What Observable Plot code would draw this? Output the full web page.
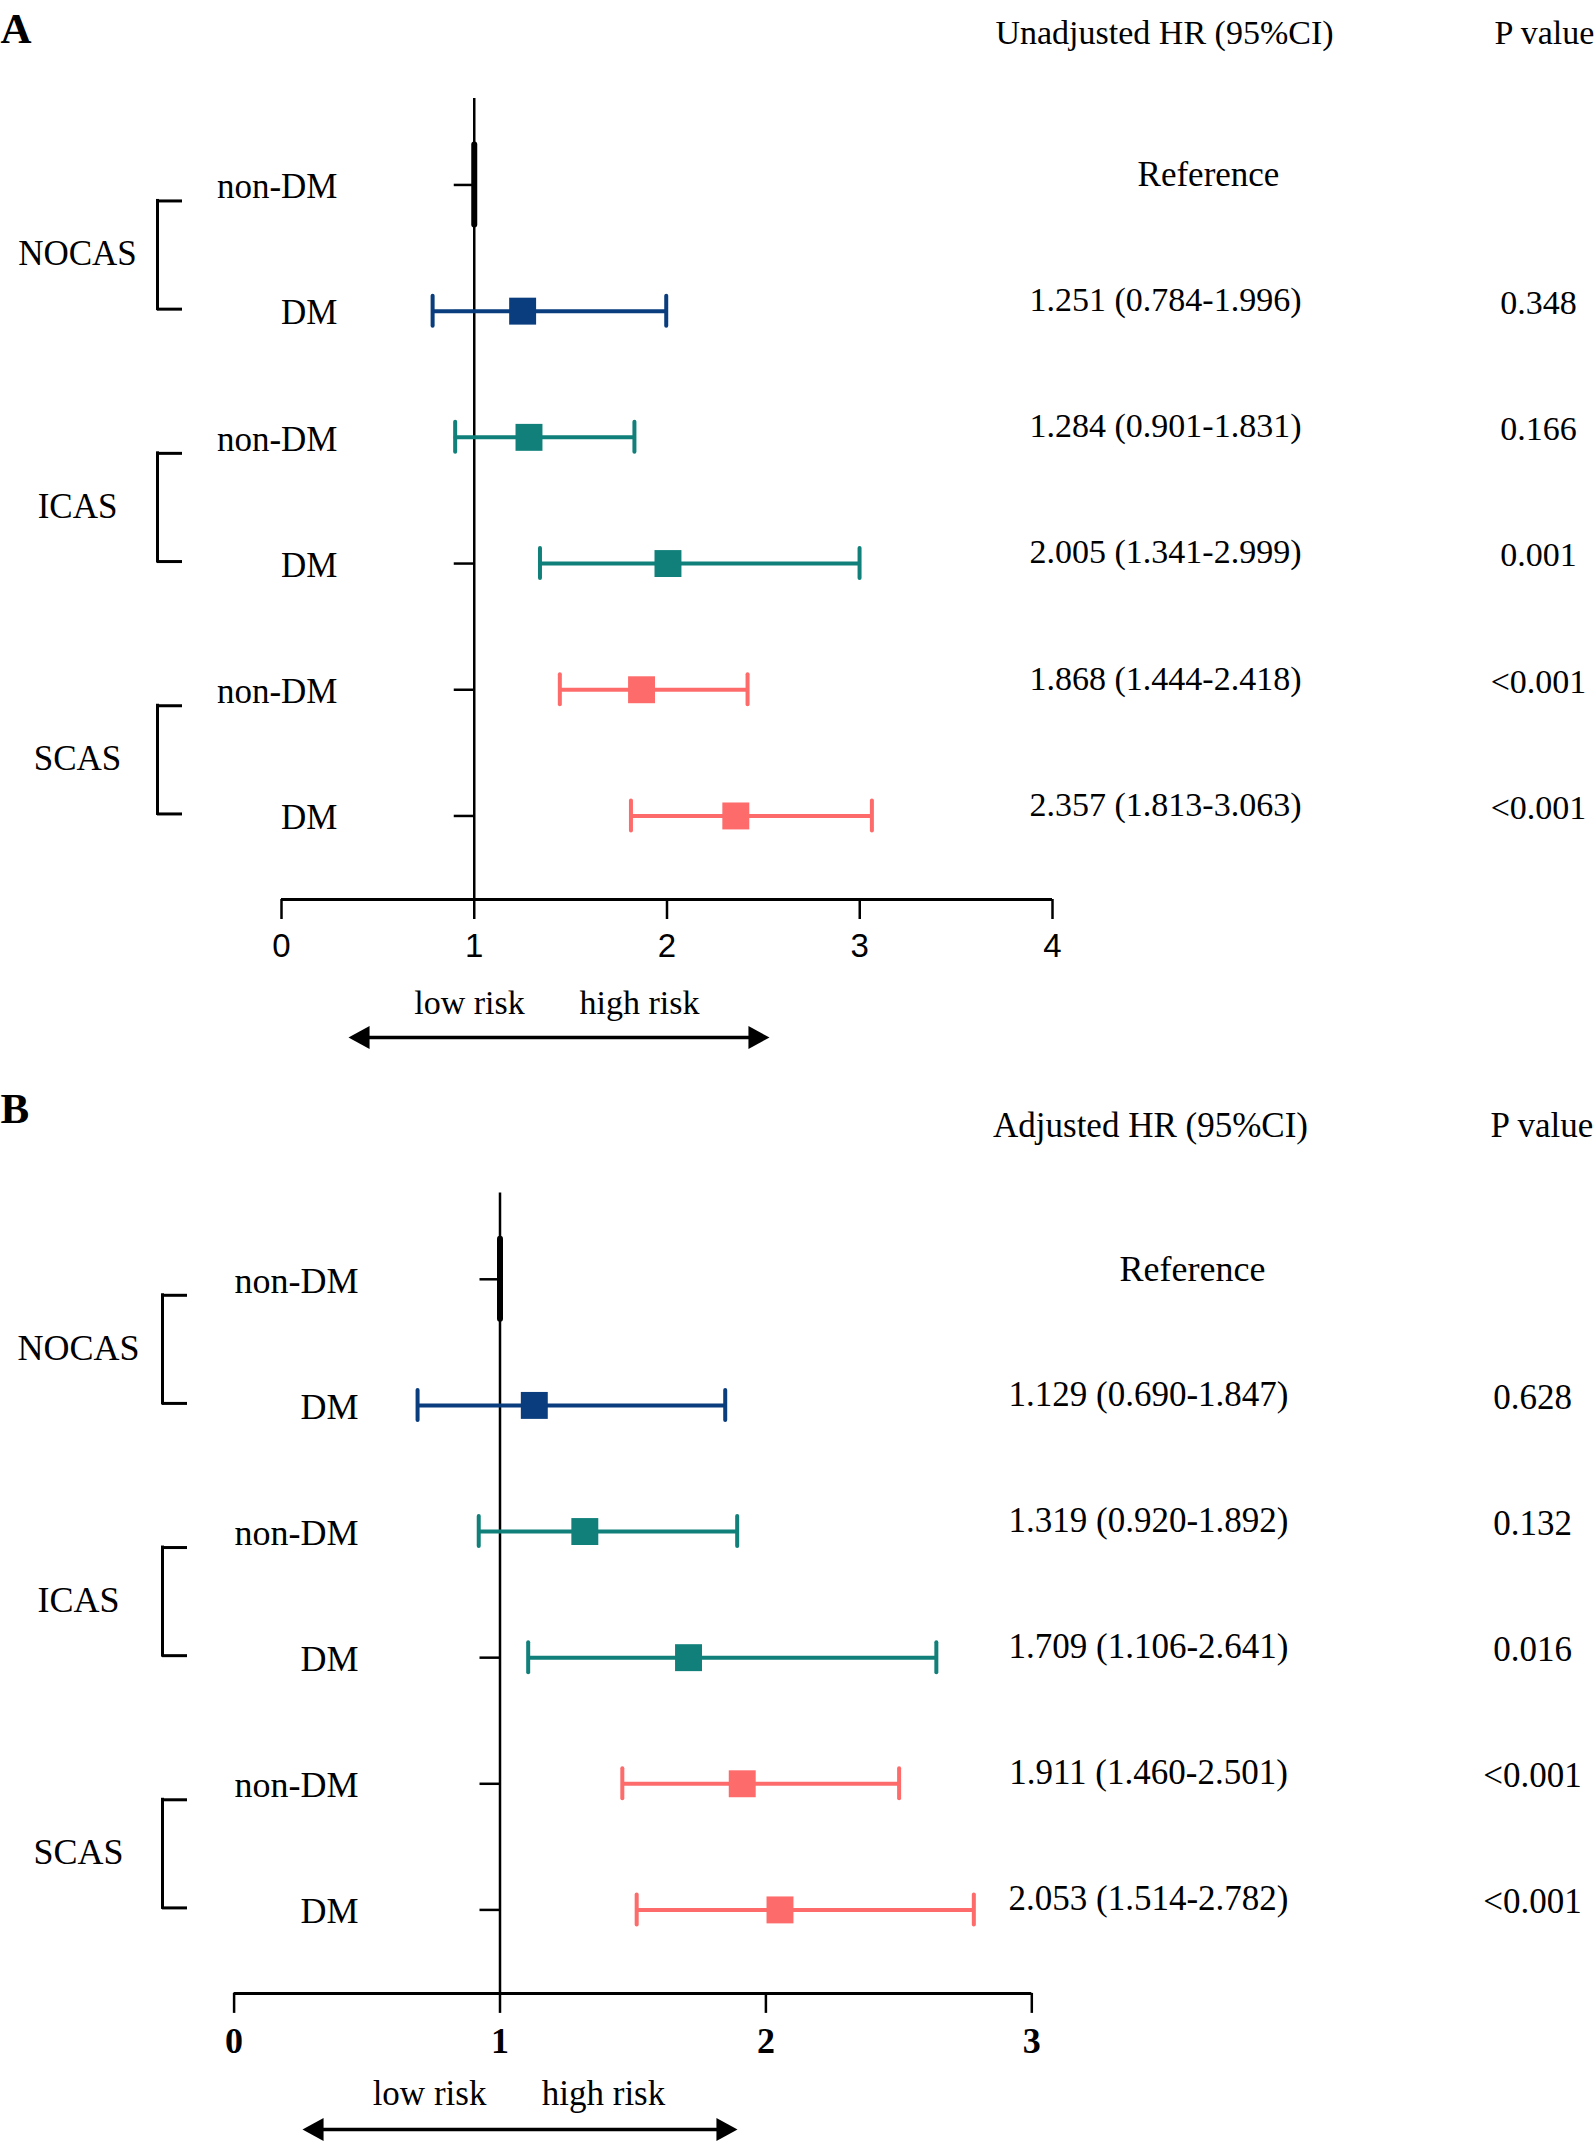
<!DOCTYPE html>
<html>
<head>
<meta charset="utf-8">
<script src="https://cdn.jsdelivr.net/npm/d3@7"></script>
<script src="https://cdn.jsdelivr.net/npm/@observablehq/plot@0.6"></script>
<style>
  html, body { margin: 0; padding: 0; background: #fff; }
  svg { display: block; }
</style>
</head>
<body>
<div id="chart"></div>
<script>
// ---------- data ----------
const groupNames = ["NOCAS", "ICAS", "SCAS"];
const groupColors = ["#0a3d7e", "#11807a", "#fd6b6b"];
const rowGroup = ["NOCAS", "NOCAS", "ICAS", "ICAS", "SCAS", "SCAS"];
const rowLabel = ["non-DM", "DM", "non-DM", "DM", "non-DM", "DM"];
const refHR = 1;

const unadjHR = [1, 1.251, 1.284, 2.005, 1.868, 2.357];
const unadjLo = [null, 0.784, 0.901, 1.341, 1.444, 1.813];
const unadjHi = [null, 1.996, 1.831, 2.999, 2.418, 3.063];
const unadjP = ["", "0.348", "0.166", "0.001", "<0.001", "<0.001"];

const adjHR = [1, 1.129, 1.319, 1.709, 1.911, 2.053];
const adjLo = [null, 0.690, 0.920, 1.106, 1.460, 1.514];
const adjHi = [null, 1.847, 1.892, 2.641, 2.501, 2.782];
const adjP = ["", "0.628", "0.132", "0.016", "<0.001", "<0.001"];

const ticksA = [0, 1, 2, 3, 4];
const ticksB = [0, 1, 2, 3];

// ---------- drawing ----------
const serif = "'Liberation Serif', 'Times New Roman', Times, serif";
const sans = "'Liberation Sans', Arial, Helvetica, sans-serif";

// arrowhead symbols (origin at the tip)
const headLeft = {draw(ctx, size) { const s = Math.sqrt(size), l = 1.32 * s, h = 0.72 * s;
  ctx.moveTo(0, 0); ctx.lineTo(l, -h); ctx.lineTo(l, h); ctx.closePath(); }};
const headRight = {draw(ctx, size) { const s = Math.sqrt(size), l = 1.32 * s, h = 0.72 * s;
  ctx.moveTo(0, 0); ctx.lineTo(-l, -h); ctx.lineTo(-l, h); ctx.closePath(); }};

function panel(c) {
  const L = c.layout;
  const rows = rowLabel.map((label, i) => ({
    i, label, group: rowGroup[i], hr: c.hr[i], lo: c.lo[i], hi: c.hi[i], p: c.p[i]
  }));
  const ci = rows.filter(d => d.lo != null);
  const ref = rows.filter(d => d.lo == null);
  const spans = groupNames.map(g => {
    const r = rows.filter(d => d.group === g);
    return {group: g, top: r[0].i, bottom: r[r.length - 1].i, mid: (r[0].i + r[r.length - 1].i) / 2};
  });
  const x0 = c.ticks[0];
  const fs = L.fs;
  const bottomPx = L.height - L.mb;
  const abs = (px, baseline, size) => ({frameAnchor: "top-left", lineAnchor: "middle",
    dx: px - L.ml, dy: baseline - 0.32 * size - L.mt});
  const fmt = d => d.lo == null ? "Reference"
    : `${d.hr.toFixed(3)} (${d.lo.toFixed(3)}-${d.hi.toFixed(3)})`;

  return Plot.plot({
    width: 1594,
    height: L.height,
    marginLeft: L.ml, marginRight: L.mr, marginTop: L.mt, marginBottom: L.mb,
    style: {fontFamily: serif, fontSize: fs + "px", color: "black", background: "white", overflow: "visible"},
    x: {domain: [c.ticks[0], c.ticks[c.ticks.length - 1]], label: null},
    y: {domain: L.yDomain, reverse: true, axis: null},
    color: {domain: groupNames, range: groupColors},
    marks: [
      // reference line at HR = 1
      Plot.ruleX([refHR], {strokeWidth: 2.5}),
      // row ticks to the left of the reference line
      Plot.ruleY(rows, {y: "i", x1: refHR, x2: refHR, insetLeft: -20, strokeWidth: 2.5}),
      // x axis line + ticks
      Plot.ruleY([L.yDomain[1]], {strokeWidth: 3}),
      Plot.axisX({ticks: c.ticks, tickSize: 20, tickPadding: 14, strokeWidth: 2.5,
        tickFormat: d => String(d), label: null,
        fontSize: L.tickFs, fontFamily: L.tickFont, fontWeight: L.tickWeight}),
      // group brackets
      Plot.ruleX(spans, {x: x0, dx: L.bracketX - L.ml, y1: "top", y2: "bottom",
        insetTop: 16, insetBottom: 2, strokeWidth: 3, strokeLinecap: "square"}),
      Plot.ruleY(spans, {y: "top", dy: 16, x1: x0, x2: x0,
        insetLeft: L.bracketX - L.ml, insetRight: L.ml - L.bracketX - 25, strokeWidth: 3}),
      Plot.ruleY(spans, {y: "bottom", dy: -2, x1: x0, x2: x0,
        insetLeft: L.bracketX - L.ml, insetRight: L.ml - L.bracketX - 25, strokeWidth: 3}),
      // reference category bar
      Plot.ruleX(ref, {x: "hr", y1: "i", y2: "i", insetTop: -40, insetBottom: -40,
        strokeWidth: 6, strokeLinecap: "round"}),
      // confidence intervals
      Plot.ruleY(ci, {y: "i", x1: "lo", x2: "hi", stroke: "group", strokeWidth: 4}),
      Plot.ruleX(ci, {x: "lo", y1: "i", y2: "i", insetTop: -15, insetBottom: -15,
        stroke: "group", strokeWidth: 4, strokeLinecap: "round"}),
      Plot.ruleX(ci, {x: "hi", y1: "i", y2: "i", insetTop: -15, insetBottom: -15,
        stroke: "group", strokeWidth: 4, strokeLinecap: "round"}),
      Plot.dot(ci, {x: "hr", y: "i", r: 15.2, symbol: "square", fill: "group"}),
      // row and group labels
      Plot.text(rows, {y: "i", text: "label", frameAnchor: "left", dx: L.rowLabelX - L.ml, dy: 2,
        textAnchor: "end", fontSize: L.rowFs}),
      Plot.text(spans, {y: "mid", text: "group", frameAnchor: "left", dx: L.groupX - L.ml, dy: 6,
        textAnchor: "middle", fontSize: L.rowFs}),
      // HR (95% CI) and P value columns
      Plot.text(ci, {y: "i", text: fmt, frameAnchor: "left", dx: L.hrX - L.ml, dy: -11,
        textAnchor: "middle", fontSize: fs}),
      Plot.text(ref, {y: "i", text: fmt, frameAnchor: "left", dx: L.refX - L.ml, dy: -10,
        textAnchor: "middle", fontSize: L.rowFs}),
      Plot.text(ci, {y: "i", text: "p", frameAnchor: "left", dx: L.pX - L.ml, dy: -8,
        textAnchor: "middle", fontSize: fs}),
      // panel letter and column headers
      Plot.text([c.panel], {...abs(0, L.labelBase, 43), textAnchor: "start", fontSize: 43, fontWeight: "bold"}),
      Plot.text([c.header], {...abs(L.headerX, L.headerBase, fs), textAnchor: "middle", fontSize: fs}),
      Plot.text(["P value"], {...abs(L.pHeadX, L.headerBase, fs), textAnchor: "start", fontSize: fs}),
      // risk direction annotation
      Plot.text(["low risk"], {...abs(L.lowX, L.riskBase, fs), textAnchor: "middle", fontSize: fs}),
      Plot.text(["high risk"], {...abs(L.highX, L.riskBase, fs), textAnchor: "middle", fontSize: fs}),
      Plot.ruleY([L.yDomain[1]], {dy: L.arrowY - bottomPx, x1: x0, x2: x0,
        insetLeft: L.arrowX1 + 10 - L.ml, insetRight: L.ml - (L.arrowX2 - 10), strokeWidth: 3.5}),
      Plot.dot([0], {frameAnchor: "top-left", dx: L.arrowX1 - L.ml, dy: L.arrowY - L.mt,
        symbol: headLeft, r: 9, fill: "black"}),
      Plot.dot([0], {frameAnchor: "top-left", dx: L.arrowX2 - L.ml, dy: L.arrowY - L.mt,
        symbol: headRight, r: 9, fill: "black"})
    ]
  });
}

const layoutA = {
  height: 1080, ml: 281, mr: 542, mt: 98, mb: 181, yDomain: [-0.685, 5.662],
  fs: 34, rowFs: 35, tickFs: 33, tickFont: sans, tickWeight: "normal",
  rowLabelX: 337, groupX: 77, bracketX: 157,
  hrX: 1165, refX: 1208, pX: 1538,
  labelBase: 42, headerX: 1164, pHeadX: 1494, headerBase: 43,
  lowX: 469, highX: 639, riskBase: 1013,
  arrowY: 1037, arrowX1: 348, arrowX2: 769
};
const layoutB = {
  height: 1061, ml: 233.6, mr: 562.7, mt: 112.4, mb: 148.1, yDomain: [-0.685, 5.662],
  fs: 35, rowFs: 36, tickFs: 36, tickFont: serif, tickWeight: "bold",
  rowLabelX: 358, groupX: 78, bracketX: 162,
  hrX: 1148, refX: 1192, pX: 1532,
  labelBase: 42, headerX: 1150, pHeadX: 1490, headerBase: 56,
  lowX: 429, highX: 603, riskBase: 1024,
  arrowY: 1049, arrowX1: 302, arrowX2: 737
};

const chart = document.getElementById("chart");
chart.append(panel({panel: "A", header: "Unadjusted HR (95%CI)", hr: unadjHR, lo: unadjLo, hi: unadjHi, p: unadjP, ticks: ticksA, layout: layoutA}));
chart.append(panel({panel: "B", header: "Adjusted HR (95%CI)", hr: adjHR, lo: adjLo, hi: adjHi, p: adjP, ticks: ticksB, layout: layoutB}));
</script>
</body>
</html>
